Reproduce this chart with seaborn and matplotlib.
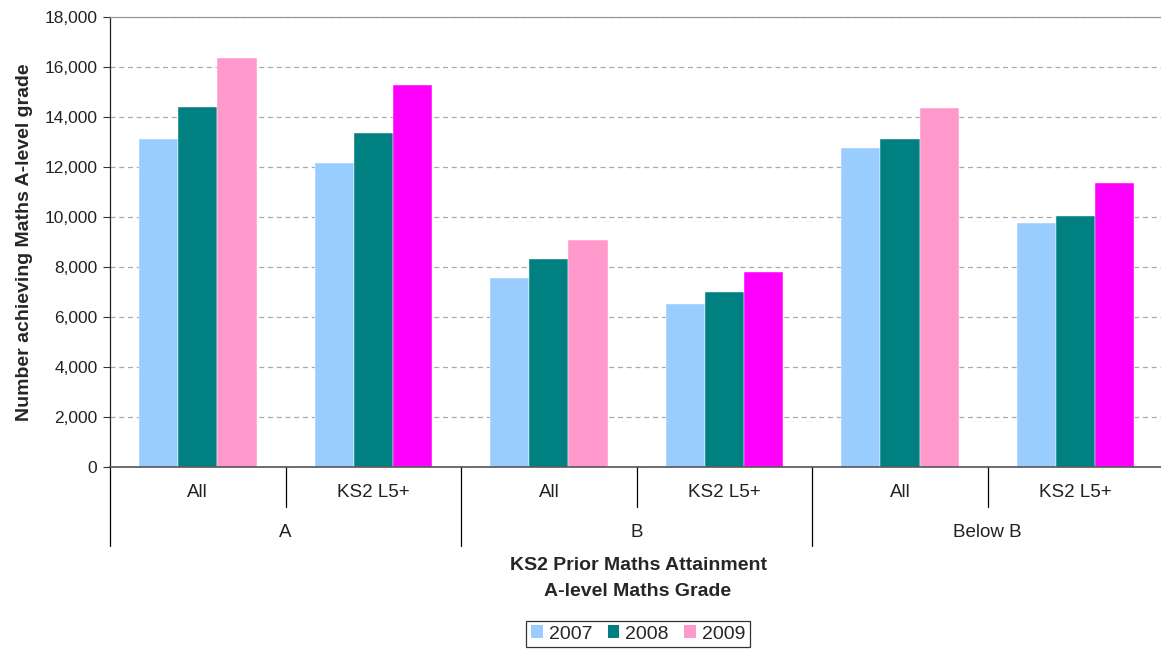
import pandas as pd
import matplotlib.pyplot as plt
import matplotlib.patches as mpatches
from matplotlib.ticker import FuncFormatter, MultipleLocator
import seaborn as sns

# Data
grades = ["A", "A", "B", "B", "Below B", "Below B"]
prior = ["All", "KS2 L5+", "All", "KS2 L5+", "All", "KS2 L5+"]
years = ["2007", "2008", "2009"]
v2007 = [13100, 12140, 7540, 6500, 12740, 9760]
v2008 = [14380, 13340, 8300, 7000, 13100, 10020]
v2009 = [16360, 15270, 9070, 7780, 14360, 11350]
colors = ["#99CCFF", "#008080", "#FF99CC"]
ks2_2009_color = "#FF00FF"

sns.set_style("white")
plt.rcParams['font.family'] = ['Liberation Sans', 'DejaVu Sans']

cats = [f"{g}|{p}" for g, p in zip(grades, prior)]
df = pd.DataFrame({
    "cat": cats * 3,
    "year": [y for y in years for _ in cats],
    "value": v2007 + v2008 + v2009,
})

fig = plt.figure(figsize=(11.61, 6.5), dpi=100)
ax = fig.add_axes([110 / 1161, 1 - 466.7 / 650, 1 - 110 / 1161 + 0.002, 449.7 / 650])

sns.barplot(data=df, x="cat", y="value", hue="year", order=cats,
            hue_order=years, palette=colors, width=0.67, saturation=1,
            edgecolor="white", linewidth=0.3, legend=False, ax=ax)

# 2009 bars for KS2 L5+ groups are magenta
bars_2009 = ax.containers[2]
for p, lab in zip(bars_2009, prior):
    if lab == "KS2 L5+":
        p.set_facecolor(ks2_2009_color)

ax.set_xlim(-0.5, 5.5)
ax.set_ylim(0, 18000)
ax.yaxis.set_major_locator(MultipleLocator(2000))
ax.yaxis.set_major_formatter(FuncFormatter(lambda v, _: f"{v:,.0f}"))
ax.tick_params(axis='y', which='major', left=True, length=5, width=0.8,
               color='#333333', labelsize=12.5, labelcolor='#222222', pad=4)
ax.tick_params(axis='x', bottom=False, labelbottom=False)
ax.set_xlabel("")
ax.set_ylabel("Number achieving Maths A-level grade", fontsize=14,
              fontweight='bold', labelpad=8)

ax.grid(axis='y', linestyle=(0, (4, 3)), color='#AAAAAA', linewidth=0.9)
ax.set_axisbelow(True)
ax.spines['right'].set_visible(False)
ax.spines['top'].set_color('#999999')
ax.spines['top'].set_linewidth(0.9)
ax.spines['left'].set_color('#222222')
ax.spines['bottom'].set_color('#555555')
ax.spines['left'].set_linewidth(0.9)
ax.spines['bottom'].set_linewidth(1.2)

# two-level category axis
trans = ax.get_xaxis_transform()
for x in [0.5, 2.5, 4.5]:
    ax.plot([x, x], [0, -40 / 449.7], transform=trans, color='black',
            lw=0.9, clip_on=False)
for x in [-0.5, 1.5, 3.5]:
    ax.plot([x, x], [0, -79 / 449.7], transform=trans, color='black',
            lw=0.9, clip_on=False)
for i, p in enumerate(prior):
    ax.text(i, -26 / 449.7, p, transform=trans, ha='center', va='center',
            fontsize=13.5, color='#222222')
for i in range(0, 6, 2):
    ax.text(i + 0.5, -66 / 449.7, grades[i], transform=trans, ha='center',
            va='center', fontsize=13.5, color='#222222')

fig.text(638 / 1161, 1 - 578.5 / 650,
         "KS2 Prior Maths Attainment\nA-level Maths Grade",
         ha='center', va='center', fontsize=14, fontweight='bold',
         linespacing=1.65)

handles = [mpatches.Patch(facecolor=c, edgecolor='none', label=y)
           for c, y in zip(colors, years)]
leg = fig.legend(handles=handles, loc='center', ncol=3,
                 bbox_to_anchor=(638 / 1161, 1 - 634 / 650),
                 fontsize=14, frameon=True, fancybox=False,
                 handlelength=0.6, handleheight=0.6, handletextpad=0.3,
                 columnspacing=0.8, borderpad=0.25)
leg.get_frame().set_edgecolor('black')
leg.get_frame().set_linewidth(0.9)

fig.savefig("out.png", dpi=100)
